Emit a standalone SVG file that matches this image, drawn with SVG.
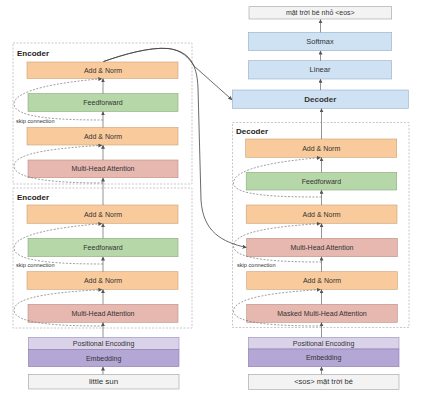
<svg xmlns="http://www.w3.org/2000/svg" width="424" height="400" viewBox="0 0 424 400">
<defs>
<marker id="ah" viewBox="0 0 6 6" refX="5.5" refY="3" markerWidth="4" markerHeight="4" orient="auto-start-reverse" markerUnits="userSpaceOnUse">
<path d="M0,0 L6,3 L0,6 Z" fill="#555"/>
</marker>
</defs>
<style>
text{font-family:"Liberation Sans",Arial,sans-serif;fill:#333;text-anchor:middle;dominant-baseline:central}
.grp{fill:none;stroke:#bbb;stroke-width:0.8;stroke-dasharray:2,1.5}
.gl{font-weight:bold;font-size:8px;text-anchor:start;fill:#222}
.an{fill:#f9cb9c;stroke:#c9a074;stroke-width:0.6}
.ff{fill:#b6d7a8;stroke:#8aaa7c;stroke-width:0.6}
.mh{fill:#e6b8af;stroke:#b98e86;stroke-width:0.6}
.bl{fill:#cfe2f3;stroke:#94aec8;stroke-width:0.6}
.pe{fill:#d9d2e9;stroke:#9a90b8;stroke-width:0.6}
.em{fill:#b4a7d6;stroke:#8a7db0;stroke-width:0.6}
.in{fill:#f3f3f3;stroke:#a0a0a0;stroke-width:0.6}
.t{font-size:7px}
.v{stroke:#666;stroke-width:0.7;fill:none;marker-end:url(#ah)}
.sk{stroke:#777;stroke-width:0.7;fill:none;stroke-dasharray:2,1.5;marker-end:url(#ah)}
.cr{stroke:#444;stroke-width:0.8;fill:none;marker-end:url(#ah)}
.sl{font-size:5.6px;text-anchor:start}
</style>

<g id="encoder1">
<rect class="grp" x="13" y="43" width="179" height="141"/>
<text class="gl" x="17" y="53">Encoder</text>
</g>
<g id="encoder2">
<rect class="grp" x="13" y="188" width="179" height="140"/>
<text class="gl" x="17" y="197">Encoder</text>
</g>
<g id="decoderblock">
<rect class="grp" x="232.5" y="122.5" width="176.5" height="205"/>
<text class="gl" x="236" y="131">Decoder</text>
</g>

<g id="e1-addnorm2"><rect class="an" x="27" y="62" width="151" height="16.5"/><text class="t" x="103" y="70.3">Add &amp; Norm</text></g>
<g id="e1-ff"><rect class="ff" x="28" y="93.5" width="150" height="18"/><text class="t" x="103" y="102.5">Feedforward</text></g>
<g id="e1-addnorm1"><rect class="an" x="27" y="127.5" width="151" height="17.5"/><text class="t" x="103" y="136.3">Add &amp; Norm</text></g>
<g id="e1-mha"><rect class="mh" x="28" y="160" width="150" height="17.7"/><text class="t" x="103" y="168.9">Multi-Head Attention</text></g>

<g id="e2-addnorm2"><rect class="an" x="27" y="205" width="151" height="18.3"/><text class="t" x="103" y="214.2">Add &amp; Norm</text></g>
<g id="e2-ff"><rect class="ff" x="28" y="238.3" width="150" height="18.4"/><text class="t" x="103" y="247.5">Feedforward</text></g>
<g id="e2-addnorm1"><rect class="an" x="27" y="271.7" width="151" height="17.6"/><text class="t" x="103" y="280.5">Add &amp; Norm</text></g>
<g id="e2-mha"><rect class="mh" x="28" y="304.3" width="150" height="18"/><text class="t" x="103" y="313.3">Multi-Head Attention</text></g>

<g id="e-pe"><rect class="pe" x="28.3" y="337.3" width="150.7" height="12"/><text class="t" x="103.6" y="343.3">Positional Encoding</text></g>
<g id="e-emb"><rect class="em" x="28.3" y="349.3" width="150.7" height="17.4"/><text class="t" x="103.6" y="358">Embedding</text></g>
<g id="e-input"><rect class="in" x="28.3" y="374.3" width="150.7" height="14.7"/><text x="103.6" y="381.7" font-size="8px">little sun</text></g>

<g id="d-output"><rect class="in" x="249" y="6.7" width="142.7" height="12.3"/><text class="t" x="320.3" y="12.9">mặt trời bé nhỏ &lt;eos&gt;</text></g>
<g id="d-softmax"><rect class="bl" x="248.3" y="32.3" width="143.4" height="18.4"/><text x="320" y="41.5" font-size="7.5px">Softmax</text></g>
<g id="d-linear"><rect class="bl" x="248.3" y="60.7" width="143.4" height="18.3"/><text x="320" y="69.9" font-size="7.5px">Linear</text></g>
<g id="d-decoder"><rect class="bl" x="232.3" y="90" width="176" height="18.3"/><text x="320.3" y="99.2" font-size="8px" font-weight="bold">Decoder</text></g>

<g id="d-addnorm3"><rect class="an" x="245.7" y="139" width="151" height="18.3"/><text class="t" x="321.2" y="148.2">Add &amp; Norm</text></g>
<g id="d-ff"><rect class="ff" x="246.2" y="172.3" width="150.5" height="17.7"/><text class="t" x="321.4" y="181.2">Feedforward</text></g>
<g id="d-addnorm2"><rect class="an" x="246.2" y="205" width="150.8" height="18.3"/><text class="t" x="321.6" y="214.2">Add &amp; Norm</text></g>
<g id="d-mha"><rect class="mh" x="246.7" y="238.3" width="150.6" height="18.4"/><text class="t" x="322" y="247.5">Multi-Head Attention</text></g>
<g id="d-addnorm1"><rect class="an" x="246.7" y="271.7" width="150.6" height="17.6"/><text class="t" x="322" y="280.5">Add &amp; Norm</text></g>
<g id="d-mmha"><rect class="mh" x="246.7" y="304.3" width="150.6" height="18"/><text class="t" x="322" y="313.3">Masked Multi-Head Attention</text></g>

<g id="d-pe"><rect class="pe" x="248.3" y="337.3" width="150.7" height="11.7"/><text class="t" x="323.6" y="343.2">Positional Encoding</text></g>
<g id="d-emb"><rect class="em" x="248.3" y="349" width="150.7" height="17.7"/><text class="t" x="323.6" y="357.9">Embedding</text></g>
<g id="d-input"><rect class="in" x="248.3" y="374.3" width="150.7" height="15"/><text x="323.6" y="381.8" font-size="7.5px">&lt;sos&gt; mặt trời bé</text></g>

<g id="connectors">
<path class="v" d="M103,374.3 V366.9"/>
<path class="v" d="M103,337.3 V322.5"/>
<path class="v" d="M103,304.3 V289.5"/>
<path class="v" d="M103,271.7 V256.9"/>
<path class="v" d="M103,238.3 V223.5"/>
<path class="v" d="M103,205 V177.9"/>
<path class="v" d="M103,160 V145.2"/>
<path class="v" d="M103,127.5 V111.7"/>
<path class="v" d="M103,93.5 V78.7"/>

<path class="v" d="M321.5,374.3 V366.9"/>
<path class="v" d="M321.5,337.3 V322.5"/>
<path class="v" d="M321.5,304.3 V289.5"/>
<path class="v" d="M321.5,271.7 V256.9"/>
<path class="v" d="M321.5,238.3 V223.5"/>
<path class="v" d="M321.5,205 V190.2"/>
<path class="v" d="M321.5,172.3 V157.5"/>
<path class="v" d="M321.5,139 V108.5"/>
<path class="v" d="M320.5,90 V79.2"/>
<path class="v" d="M320.5,60.7 V50.9"/>
<path class="v" d="M320.5,32.3 V19.5"/>

<path class="sk" d="M103,120 C60,120 14,118 14,104 C14,90 60,82 102,78.8"/>
<path class="sk" d="M103,183 C60,183 14,180 14,166 C14,152 60,148 102,145.3"/>
<path class="sk" d="M103,264 C60,264 14,262 14,248 C14,234 60,227 102,223.6"/>
<path class="sk" d="M103,326 C60,326 14,324 14,310 C14,296 60,292 102,289.6"/>

<path class="sk" d="M321.5,197 C280,197 233.5,196 233.5,183 C233.5,168 280,161 320.5,157.6"/>
<path class="sk" d="M321.5,262 C280,262 233.5,260 233.5,246 C233.5,231 280,226 320.5,223.6"/>
<path class="sk" d="M321.5,326 C280,326 233.5,324 233.5,311 C233.5,297 280,292 320.5,289.6"/>

<path class="cr" d="M103.5,61.5 C125,54 150,47 168,48.5 C182,50 189,58 194,66 L232,99.8"/>
<path class="cr" d="M103.5,61.5 C125,54 150,47 168,48.5 C188,51 197,62 198,88 L201,200 C203,232 222,242 246.3,247.5"/>
</g>

<text class="sl" x="16" y="120.5">skip connection</text>
<text class="sl" x="16" y="264.5">skip connection</text>
<text class="sl" x="237" y="265">skip connection</text>
</svg>
